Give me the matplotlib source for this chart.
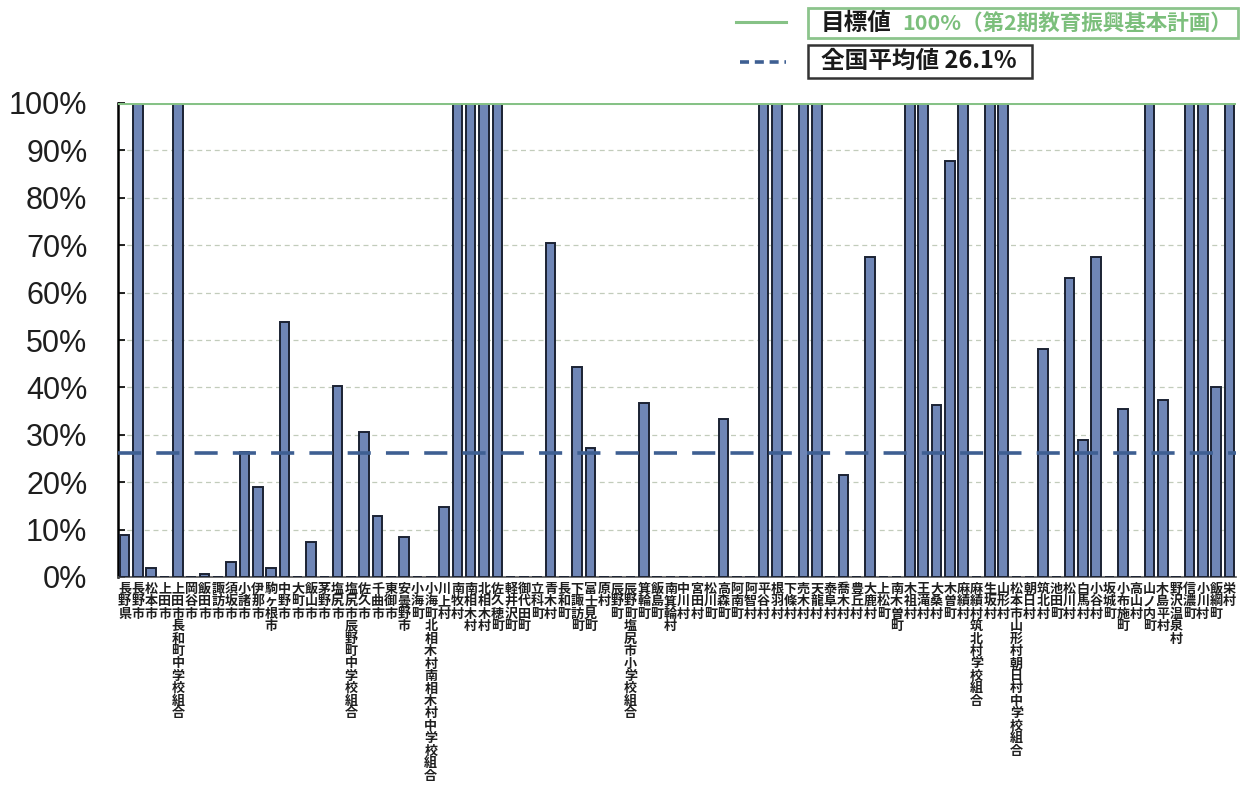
import matplotlib
matplotlib.use("Agg")
import matplotlib.pyplot as plt
from matplotlib.patches import Rectangle
from matplotlib.lines import Line2D

plt.rcParams['font.family'] = ['Noto Sans CJK JP', 'DejaVu Sans']

# municipalities / school unions (in chart order)
municipalities = [
    "長野県", "長野市", "松本市", "上田市", "上田市長和町中学校組合", "岡谷市", "飯田市",
    "諏訪市", "須坂市", "小諸市", "伊那市", "駒ヶ根市", "中野市", "大町市", "飯山市",
    "茅野市", "塩尻市", "塩尻市辰野町中学校組合", "佐久市", "千曲市", "東御市", "安曇野市",
    "小海町", "小海町北相木村南相木村中学校組合", "川上村", "南牧村", "南相木村", "北相木村",
    "佐久穂町", "軽井沢町", "御代田町", "立科町", "青木村", "長和町", "下諏訪町", "富士見町",
    "原村", "辰野町", "辰野町塩尻市小学校組合", "箕輪町", "飯島町", "南箕輪村", "中川村",
    "宮田村", "松川町", "高森町", "阿南町", "阿智村", "平谷村", "根羽村", "下條村", "売木村",
    "天龍村", "泰阜村", "喬木村", "豊丘村", "大鹿村", "上松町", "南木曽町", "木祖村", "王滝村",
    "大桑村", "木曽町", "麻績村", "麻績村筑北村学校組合", "生坂村", "山形村",
    "松本市山形村朝日村中学校組合", "朝日村", "筑北村", "池田町", "松川村", "白馬村", "小谷村",
    "坂城町", "小布施町", "高山村", "山ノ内町", "木島平村", "野沢温泉村", "信濃町", "小川村",
    "飯綱町", "栄村",
]

# rate (%)
rates = [
    8.9, 100, 2.0, 0, 100, 0, 0.6,
    0, 3.2, 26.3, 19.0, 2.0, 53.8, 0, 7.3,
    0, 40.4, 0, 30.6, 12.9, 0, 8.4,
    0, 0, 14.7, 100, 100, 100,
    100, 0, 0, 0, 70.4, 0, 44.4, 27.2,
    0, 0, 0, 36.7, 0, 0, 0,
    0, 0, 33.3, 0, 0, 100, 100, 0, 100,
    100, 0, 21.5, 0, 67.5, 0, 0, 100, 100,
    36.3, 87.8, 100, 0, 100, 100,
    0, 0, 48.1, 0, 63.0, 28.8, 67.6,
    0, 35.4, 0, 100, 37.3, 0, 100, 100,
    40.1, 100,
]

target = 100
national_avg = 26.1
yticks = list(range(0, 101, 10))

W, H = 1250, 790


def fx(px):
    return px / W


def fy(py):
    return 1 - py / H


fig = plt.figure(figsize=(12.5, 7.9), dpi=100)
ax = fig.add_axes([fx(118), fy(577), fx(1236) - fx(118), fy(103) - fy(577)])

x = list(range(len(municipalities)))
ax.bar(x, rates, width=0.72, color='#6f86b6', edgecolor='#1b2233',
       linewidth=1.4, zorder=3)

# grid lines
for v in yticks[1:-1]:
    ax.axhline(v, color='#c2ccbb', lw=0.9, ls=(0, (4, 3)), zorder=1)
ax.axhline(target, color='#86c286', lw=2.2, zorder=4)
ax.axhline(national_avg, color='#3e5f92', lw=2.6, ls=(0, (6.4, 4.2)), zorder=5)

ax.set_xlim(-0.5, len(municipalities) - 0.5)
ax.set_ylim(0, 100)
ax.set_yticks(yticks)
ax.set_yticklabels([f"{v}%" for v in yticks], fontsize=22,
                   family='Liberation Sans', color='#1e1e1e')
ax.tick_params(axis='y', direction='in', length=5, width=1.2, pad=22)
ax.set_xticks([])
for side in ['top', 'right']:
    ax.spines[side].set_visible(False)
ax.spines['left'].set_linewidth(1.8)
ax.spines['bottom'].set_linewidth(1.2)
ax.spines['bottom'].set_color('#555555')

# vertical stacked labels
for i, name in enumerate(municipalities):
    ax.text(i, -1.0, "\n".join(name), ha='center', va='top', fontsize=9.4,
            fontweight='bold', color='#1e1e1e', linespacing=0.86,
            clip_on=False)

# legend
fig.add_artist(Line2D([fx(736), fx(786)], [fy(22), fy(22)], color='#86c286', lw=2.2))
fig.add_artist(Line2D([fx(740), fx(786)], [fy(62), fy(62)], color='#3e5f92', lw=2.6,
                      ls=(0, (2.5, 1.6))))
fig.add_artist(Rectangle((fx(808), fy(38)), fx(1238) - fx(808), fy(8) - fy(38),
                         transform=fig.transFigure, fill=False, ec='#8cc48c', lw=2))
fig.add_artist(Rectangle((fx(808), fy(78)), fx(1032) - fx(808), fy(45) - fy(78),
                         transform=fig.transFigure, fill=False, ec='#333333', lw=1.8))
fig.text(fx(821), fy(23), "目標値", fontsize=17, fontweight='bold', color='#1a1a1a',
         va='center', ha='left')
fig.text(fx(902), fy(23), "100%（第2期教育振興基本計画）", fontsize=15.5,
         fontweight='bold', color='#7cbf7c', va='center', ha='left')
fig.text(fx(821), fy(61), "全国平均値 26.1%", fontsize=17, fontweight='bold',
         color='#1a1a1a', va='center', ha='left')

fig.savefig("out.png", dpi=100, facecolor='white')
